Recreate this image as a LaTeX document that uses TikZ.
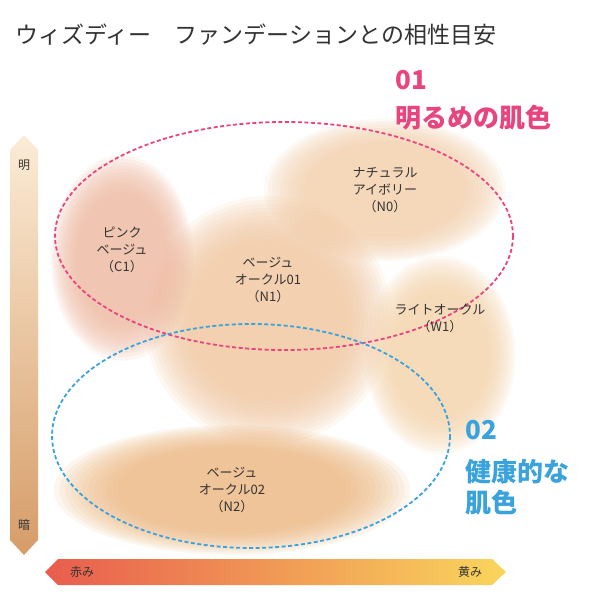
\documentclass[tikz,border=0pt]{standalone}
\usepackage{fontspec}
\setmainfont{Noto Sans CJK JP}
\usetikzlibrary{shapes.geometric}
\definecolor{pinkc}{HTML}{E8457F}
\definecolor{bluec}{HTML}{3AA3DC}
\definecolor{txt}{HTML}{333333}
\definecolor{b0}{HTML}{F5D2AE}\definecolor{b1}{HTML}{F3C9A2}\definecolor{b2}{HTML}{F0BCA4}\definecolor{b3}{HTML}{F6D6AE}\definecolor{b4}{HTML}{EFBA84}
\tikzset{
  lbl/.style={text=txt,font=\fontsize{13}{17}\selectfont,align=center},
  big/.style={font=\fontsize{26}{29}\selectfont\bfseries,anchor=west},
  dash1/.style={line width=1.8pt,dash pattern=on 4pt off 2.5pt}
}
\newcommand{\blob}[5]{%
  \foreach \k in {0,...,11}{
    \fill[#5,opacity=0.13] (#1,#2) ellipse [x radius={#3*(1.08-\k*0.035)}, y radius={#4*(1.08-\k*0.035)}];
  }}
\begin{document}
\begin{tikzpicture}[x=1pt,y=-1pt]
\useasboundingbox (0,0) rectangle (600,600);
\fill[white] (0,0) rectangle (600,600);
% blobs
\blob{385}{190}{112}{66}{b0}
\blob{268}{320}{115}{115}{b1}
\blob{122}{258}{66}{95}{b2}
\blob{440}{355}{70}{92}{b3}
\blob{232}{490}{165}{60}{b4}
% title
\node[anchor=west,text=txt,font=\fontsize{23}{26}\selectfont] (title) at (12,35) {ウィズディー　ファンデーションとの相性目安};
% 01 / 02
\node[big,text=pinkc] (n01) at (392,80) {01};
\node[big,text=pinkc] (m01) at (392,118) {明るめの肌色};
\node[big,text=bluec] (n02) at (462,430) {02};
\node[big,text=bluec,align=left] (m02) at (462,487) {健康的な\\[2pt]肌色};
% dashed ellipses
\draw[pinkc,dash1] (284,236) ellipse [x radius=229, y radius=114];
\draw[bluec,dash1] (251,436) ellipse [x radius=199, y radius=112];
% labels
\node[lbl] (N0) at (385,190) {ナチュラル\\アイボリー\\（N0）};
\node[lbl] (C1) at (122,250) {ピンク\\ベージュ\\（C1）};
\node[lbl] (N1) at (268,280) {ベージュ\\オークル01\\（N1）};
\node[lbl] (W1) at (440,318) {ライトオークル\\（W1）};
\node[lbl] (N2) at (232,490) {ベージュ\\オークル02\\（N2）};
% vertical bar
\shade[top color={rgb,255:red,251;green,236;blue,214}, bottom color={rgb,255:red,214;green,156;blue,104}]
 (24,135) -- (38,150) -- (38,540) -- (24,555) -- (10,540) -- (10,150) -- cycle;
\node[text=txt,font=\fontsize{12}{14}\selectfont] (light) at (24,165) {明};
\node[text=txt,font=\fontsize{12}{14}\selectfont] (dark) at (24,525) {暗};
% horizontal bar
\shade[left color={rgb,255:red,232;green,92;blue,78}, right color={rgb,255:red,249;green,214;blue,92}]
 (45,572) -- (58,559) -- (492,559) -- (506,572) -- (492,585) -- (58,585) -- cycle;
\node[text=txt,font=\fontsize{12}{14}\selectfont] (red) at (82,572) {赤み};
\node[text=txt,font=\fontsize{12}{14}\selectfont] (yel) at (470,572) {黄み};
\end{tikzpicture}
\end{document}
